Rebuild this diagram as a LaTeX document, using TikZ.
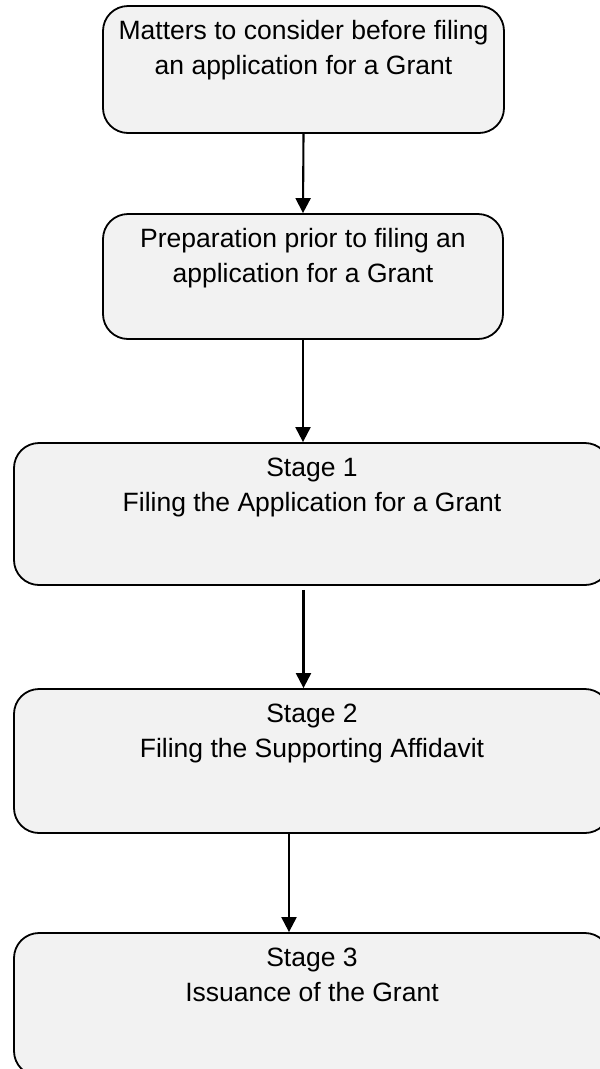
\documentclass[tikz,border=0pt]{standalone}
\usepackage{fontspec}
\setmainfont{Liberation Sans}
\usetikzlibrary{arrows.meta}
\definecolor{boxgray}{HTML}{F2F2F2}
% box text: fixed-height parbox, lines hung from the top
\newcommand{\boxlines}[3]{\parbox[c][#1pt][t]{#2pt}{\centering\fontsize{26.5}{35}\selectfont\rule{0pt}{33.5pt}#3}}
\tikzset{
  stepbox/.style={draw=black, line width=1.8pt, fill=boxgray, rounded corners=25pt, inner sep=0pt},
  flow/.style={draw=black, line width=2.1pt, -{Triangle[length=15pt,width=15pt]}}
}
\begin{document}
\begin{tikzpicture}[x=1pt,y=-1pt]
\useasboundingbox (0,0) rectangle (600,1069);
\clip (0,0) rectangle (600,1069);
\fill[white] (0,0) rectangle (600,1069);

\node[stepbox] (b1) at (303.5,69.5) {\boxlines{127}{401}{Matters to consider before filing\\an application for a Grant}};
\node[stepbox] (b2) at (303,276.5) {\boxlines{125}{400}{Preparation prior to filing an\\application for a Grant}};
\node[stepbox] (b3) at (312,514) {\boxlines{142}{596}{Stage 1\\Filing the Application for a Grant}};
\node[stepbox] (b4) at (312,761) {\boxlines{144}{596}{Stage 2\\Filing the Supporting Affidavit}};
\node[stepbox] (b5) at (312,1004.5) {\boxlines{143}{596}{Stage 3\\Issuance of the Grant}};

\draw[flow] (b1.south) -- (b2.north);
\draw[flow] (b2.south) -- (b2.south |- b3.north);
\draw[flow, shorten <=4pt] ([xshift=-8.5pt]b3.south) -- ([xshift=-8.5pt]b4.north);
\draw[flow] ([xshift=-23pt]b4.south) -- ([xshift=-23pt]b5.north);
\end{tikzpicture}
\end{document}
